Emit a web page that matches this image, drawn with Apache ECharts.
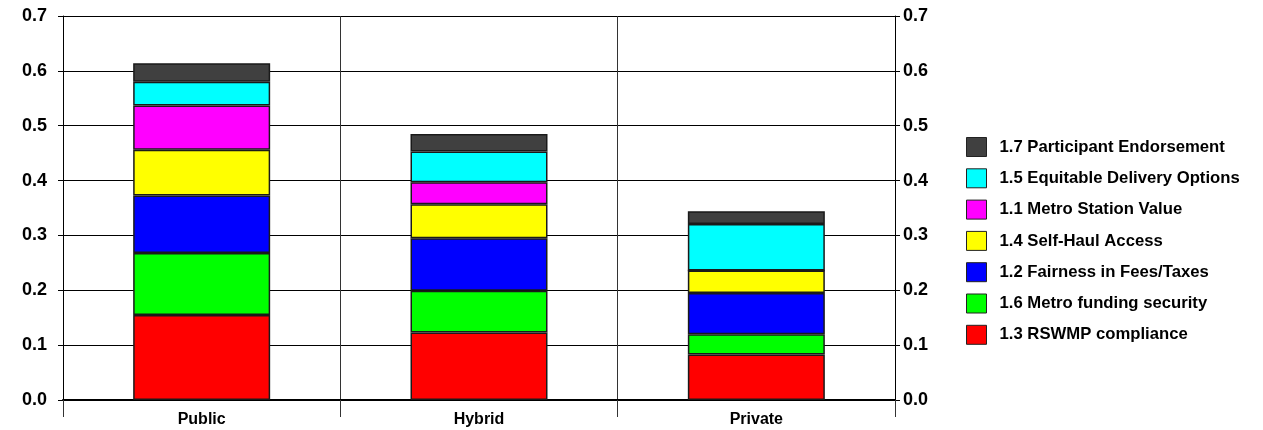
<!DOCTYPE html>
<html>
<head>
<meta charset="utf-8">
<script src="https://cdn.jsdelivr.net/npm/echarts@6/dist/echarts.min.js"></script>
<style>
  html, body { margin: 0; padding: 0; background: #fff; }
  #chart { width: 1263px; height: 430px; }
</style>
</head>
<body>
<div id="chart"></div>
<script>
// Options compared on each criterion
const categories = ['Public', 'Hybrid', 'Private'];

// Weighted criterion scores, stacked bottom to top
const rswmpCompliance       = [0.155, 0.123, 0.083];
const metroFundingSecurity  = [0.113, 0.076, 0.037];
const fairnessFeesTaxes     = [0.105, 0.096, 0.075];
const selfHaulAccess        = [0.083, 0.062, 0.041];
const metroStationValue     = [0.081, 0.040, 0.000];
const equitableDelivery     = [0.043, 0.056, 0.085];
const participantEndorse    = [0.034, 0.032, 0.023];

const yTicks = [0, 0.1, 0.2, 0.3, 0.4, 0.5, 0.6, 0.7];

const seriesDefs = [
  { name: '1.3 RSWMP compliance',          data: rswmpCompliance,      color: '#ff0000' },
  { name: '1.6 Metro funding security',    data: metroFundingSecurity, color: '#00ff00' },
  { name: '1.2 Fairness in Fees/Taxes',    data: fairnessFeesTaxes,    color: '#0000ff' },
  { name: '1.4 Self-Haul Access',          data: selfHaulAccess,       color: '#ffff00' },
  { name: '1.1 Metro Station Value',       data: metroStationValue,    color: '#ff00ff' },
  { name: '1.5 Equitable Delivery Options', data: equitableDelivery,   color: '#00ffff' },
  { name: '1.7 Participant Endorsement',   data: participantEndorse,   color: '#404040' }
];

const font = 'Arial, "Liberation Sans", Helvetica, sans-serif';
const yMin = yTicks[0], yMax = yTicks[yTicks.length - 1], yStep = 0.1;

function valueAxis(position, margin, showSplit) {
  return {
    type: 'value',
    position: position,
    min: yMin, max: yMax, interval: yStep,
    axisLine: { show: true, lineStyle: { color: '#000', width: 1 } },
    axisTick: { show: true, length: 5, lineStyle: { color: '#000' } },
    axisLabel: {
      margin: margin,
      color: '#000', fontFamily: font, fontWeight: 'bold', fontSize: 18,
      formatter: v => v.toFixed(1)
    },
    splitLine: { show: showSplit, lineStyle: { color: '#000', width: 1 } }
  };
}

const chart = echarts.init(document.getElementById('chart'), null, { renderer: 'canvas' });
chart.setOption({
  animation: false,
  backgroundColor: '#fff',
  grid: { left: 63, right: 368, top: 16, bottom: 30, containLabel: false },
  legend: {
    orient: 'vertical',
    left: 966, top: 137,
    padding: 0,
    itemWidth: 20, itemHeight: 19, itemGap: 11.3,
    icon: 'rect',
    data: seriesDefs.map(s => s.name).reverse(),
    itemStyle: { borderColor: '#222', borderWidth: 1 },
    textStyle: { color: '#000', fontFamily: font, fontWeight: 'bold', fontSize: 16.7, lineHeight: 19, padding: [0, 0, 0, 8] }
  },
  xAxis: {
    type: 'category',
    data: categories,
    boundaryGap: true,
    axisLine: { show: true, lineStyle: { color: '#000', width: 2 } },
    axisTick: { show: true, length: 17, inside: false, lineStyle: { color: '#333', width: 1 } },
    axisLabel: { margin: 12, color: '#000', fontFamily: font, fontWeight: 'bold', fontSize: 16 },
    splitLine: { show: true, lineStyle: { color: '#333', width: 1 } }
  },
  yAxis: [valueAxis('left', 16, true), valueAxis('right', 8, false)],
  series: seriesDefs.map(s => ({
    name: s.name,
    type: 'bar',
    stack: 'total',
    barWidth: 137,
    data: s.data,
    itemStyle: { color: s.color, borderColor: '#1a1a1a', borderWidth: 1.5 }
  }))
});
</script>
</body>
</html>
